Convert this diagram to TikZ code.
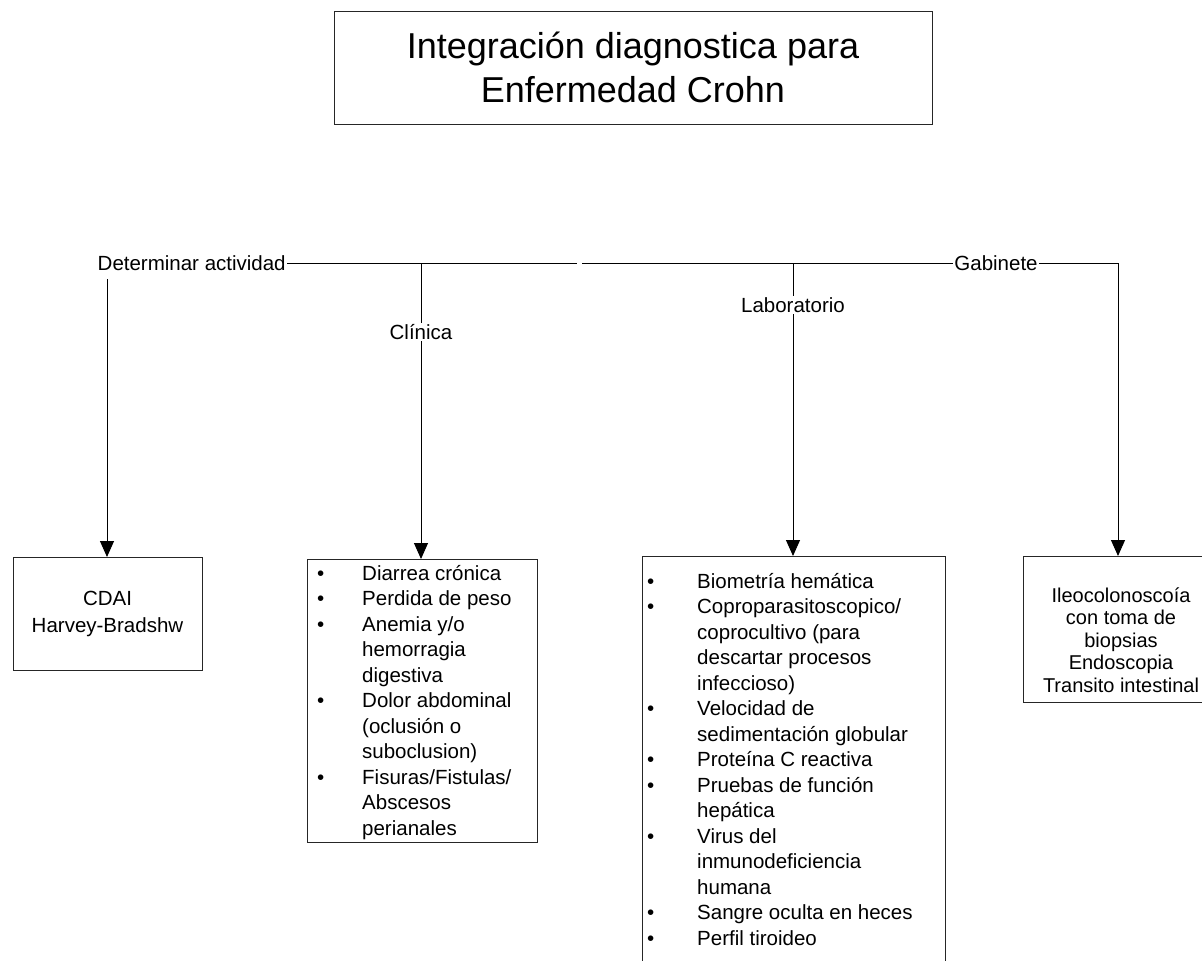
\documentclass[tikz,border=0pt]{standalone}
\usepackage{fontspec}
\setmainfont{Liberation Sans}
\usetikzlibrary{arrows.meta}
\newcommand{\bul}[1]{\makebox[#1][l]{\textbullet}}
\tikzset{
  box/.style={draw=black!85, line width=1pt, inner sep=0pt},
  lbl/.style={inner sep=1.5pt, font=\fontsize{20.5}{24}\selectfont},
  arr/.style={line width=1pt, -{Triangle[width=14pt,length=16pt]}},
  ln/.style={line width=1pt},
  lst/.style={inner sep=0pt, align=left, anchor=north west, font=\fontsize{20.5}{25.5}\selectfont},
}
\begin{document}
\begin{tikzpicture}[x=1pt,y=-1pt]
\useasboundingbox[fill=white] (0,0) rectangle (1202,961);

\node[box, minimum width=598pt, minimum height=113pt, align=center,
      font=\fontsize{36}{44}\selectfont] (title) at (633,67.5)
      {Integración diagnostica para\\Enfermedad Crohn};

\node[lbl, anchor=west] (det) at (96,263) {Determinar actividad};
\node[lbl] (gab) at (996,263) {Gabinete};
\node[lbl] (clinl) at (421,332) {Clínica};
\node[lbl] (labl) at (793,305) {Laboratorio};

\node[box, minimum width=189pt, minimum height=113pt, align=center,
      font=\fontsize{20.5}{27}\selectfont] (cdai) at (107.5,614)
      {CDAI\\Harvey-Bradshw};
\node[box, minimum width=230pt, minimum height=283pt, anchor=north west] (clinb) at (307,559) {};
\node[box, minimum width=303pt, minimum height=420pt, anchor=north west] (labb) at (642,556) {};
\node[box, minimum width=193pt, minimum height=146pt, anchor=north west] (gabb) at (1023,556) {};

\node[lst] (clint) at (317,565) {%
\bul{45pt}Diarrea crónica\\
\bul{45pt}Perdida de peso\\
\bul{45pt}Anemia y/o\\
\hspace*{45pt}hemorragia\\
\hspace*{45pt}digestiva\\
\bul{45pt}Dolor abdominal\\
\hspace*{45pt}(oclusión o\\
\hspace*{45pt}suboclusion)\\
\bul{45pt}Fisuras/Fistulas/\\
\hspace*{45pt}Abscesos\\
\hspace*{45pt}perianales};

\node[lst] (labt) at (647,573) {%
\bul{50pt}Biometría hemática\\
\bul{50pt}Coproparasitoscopico/\\
\hspace*{50pt}coprocultivo (para\\
\hspace*{50pt}descartar procesos\\
\hspace*{50pt}infeccioso)\\
\bul{50pt}Velocidad de\\
\hspace*{50pt}sedimentación globular\\
\bul{50pt}Proteína C reactiva\\
\bul{50pt}Pruebas de función\\
\hspace*{50pt}hepática\\
\bul{50pt}Virus del\\
\hspace*{50pt}inmunodeficiencia\\
\hspace*{50pt}humana\\
\bul{50pt}Sangre oculta en heces\\
\bul{50pt}Perfil tiroideo};

\node[align=center, inner sep=0pt, font=\fontsize{20}{22.5}\selectfont] (gabt) at (1121,640)
  {Ileocolonoscoía\\con toma de\\biopsias\\Endoscopia\\Transito intestinal};

\coordinate (g1) at (577,263);
\coordinate (g2) at (582,263);
\coordinate (jc) at (421,263);
\coordinate (jl) at (793,263);
\coordinate (jg) at (1118,263);
\coordinate (jd) at (107,279);

\draw[ln] (det.east) -- (g1);
\draw[ln] (g2) -- (gab.west);
\draw[ln] (gab.east) -- (jg);
\draw[arr] (jg) -- (jg |- gabb.north);
\draw[arr] (jd) -- (jd |- cdai.north);
\draw[ln] (jc) -- (clinl.north);
\draw[arr] (clinl.south) -- (clinl.south |- clinb.north);
\draw[ln] (jl) -- (labl.north);
\draw[arr] (labl.south) -- (labl.south |- labb.north);
\end{tikzpicture}
\end{document}
